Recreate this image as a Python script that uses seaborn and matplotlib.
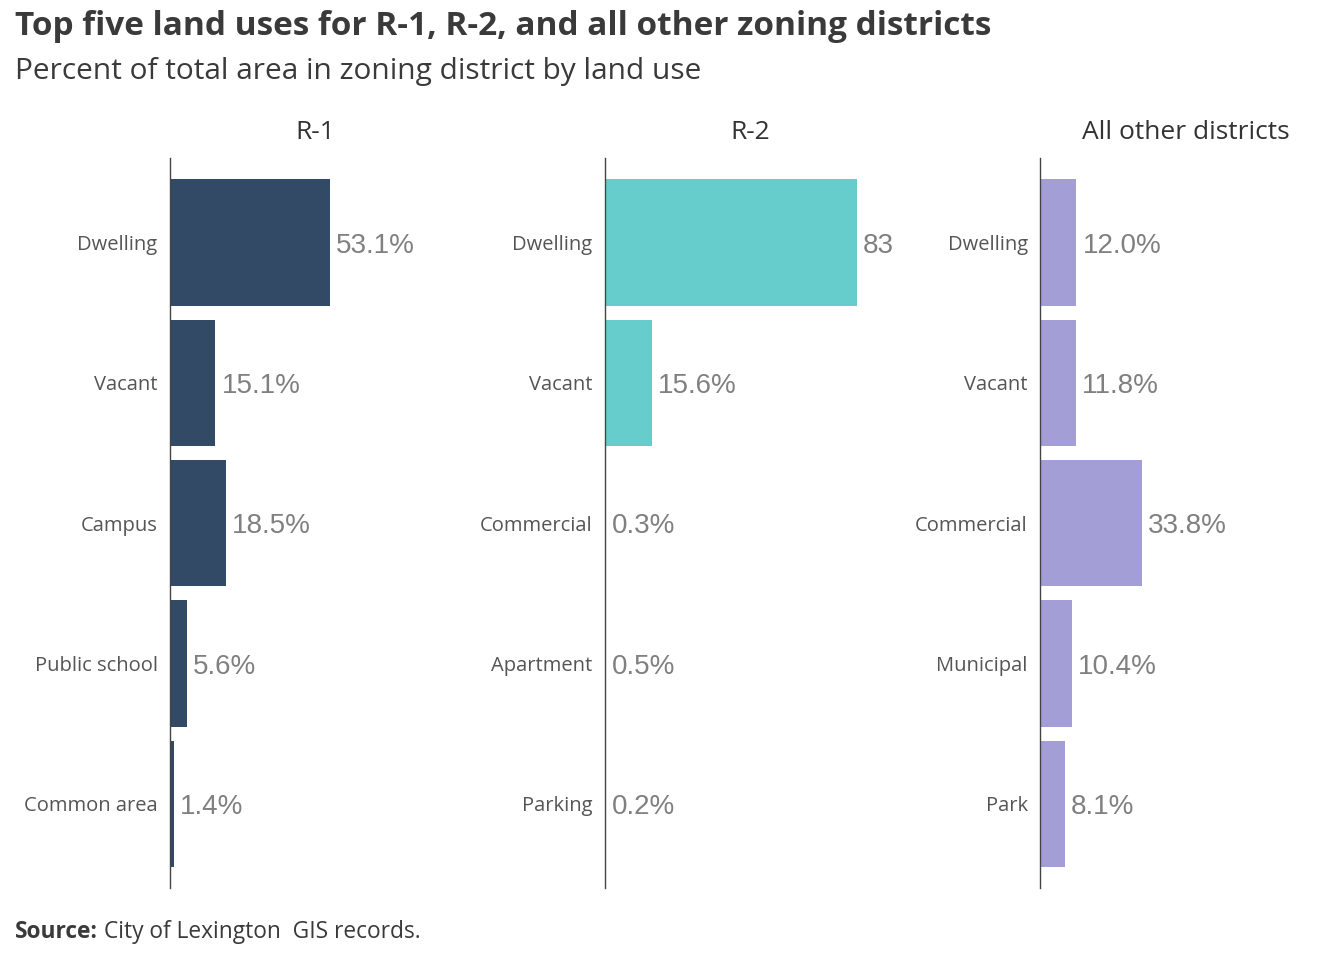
import pandas as pd
import seaborn as sns
import matplotlib.pyplot as plt

# Data
panels = ['R-1', 'R-2', 'All other districts']
r1_uses = ['Dwelling', 'Vacant', 'Campus', 'Public school', 'Common area']
r1_pct = [53.1, 15.1, 18.5, 5.6, 1.4]
r2_uses = ['Dwelling', 'Vacant', 'Commercial', 'Apartment', 'Parking']
r2_pct = [83.8, 15.6, 0.3, 0.5, 0.2]
other_uses = ['Dwelling', 'Vacant', 'Commercial', 'Municipal', 'Park']
other_pct = [12.0, 11.8, 33.8, 10.4, 8.1]
colors = ['#334a66', '#66cdcc', '#a39ed6']

sns.set_theme(style='white')
plt.rcParams['font.family'] = ['Open Sans', 'DejaVu Sans']

fig = plt.figure(figsize=(13.44, 9.6), dpi=100)

series = [(r1_uses, r1_pct), (r2_uses, r2_pct), (other_uses, other_pct)]
lefts = [0.1265, 0.450, 0.774]
xmax = 96.4

for i, (uses, pct) in enumerate(series):
    ax = fig.add_axes([lefts[i], 0.075, 0.216, 0.760])
    df = pd.DataFrame({'use': uses, 'pct': pct})
    sns.barplot(data=df, x='pct', y='use', ax=ax, color=colors[i],
                width=0.9, orient='h', saturation=1, linewidth=0)
    ax.set_xlim(0, xmax)
    ax.set_ylim(4.6, -0.6)
    ax.set_xlabel('')
    ax.set_ylabel('')
    ax.set_xticks([])
    ax.tick_params(axis='y', length=0, pad=9, labelsize=14.5, labelcolor='#555555')
    for s in ['top', 'right', 'bottom']:
        ax.spines[s].set_visible(False)
    ax.spines['left'].set_color('#444444')
    ax.spines['left'].set_linewidth(1)
    ax.set_title(panels[i], fontsize=19, color='#333333', pad=14)
    for j, v in enumerate(pct):
        ax.text(v + 2.0, j, f'{v:.1f}%', va='center_baseline', ha='left',
                fontsize=20, color='#808080', family=['Liberation Sans', 'DejaVu Sans'],
                clip_on=True)

fig.text(0.011, 0.972, 'Top five land uses for R-1, R-2, and all other zoning districts',
         fontsize=24, fontweight='bold', color='#3a3a3a', va='center')
fig.text(0.011, 0.926, 'Percent of total area in zoning district by land use',
         fontsize=21.5, color='#3a3a3a', va='center')

# Source line: bold label followed by regular text
lab = fig.text(0.011, 0.029, 'Source:', fontsize=16.4, fontweight='bold',
               color='#3a3a3a', va='center')
fig.canvas.draw()
bb = lab.get_window_extent()
x_next = (bb.x1 + 6) / fig.bbox.width
fig.text(x_next, 0.029, 'City of Lexington  GIS records.', fontsize=16.4,
         color='#3a3a3a', va='center')

plt.savefig('out.png', dpi=100)
